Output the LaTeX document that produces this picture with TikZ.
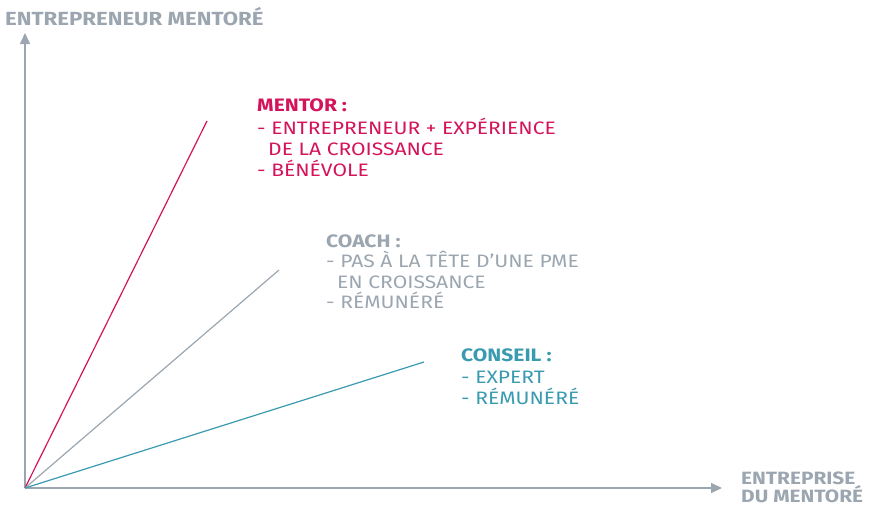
\documentclass[tikz,border=0pt]{standalone}
\usepackage{fontspec}
\setmainfont{Fira Sans}[FakeStretch=1.17]
\usetikzlibrary{arrows.meta}
\definecolor{mred}{HTML}{D4145A}
\definecolor{mgray}{HTML}{9BA6B0}
\definecolor{mteal}{HTML}{3A9BB0}
\begin{document}
\begin{tikzpicture}[x=1pt,y=-1pt,
  axis/.style={draw=mgray,line width=1.5pt,-{Triangle[length=11pt,width=10pt]}},
  ray/.style={line width=1.2pt},
  txt/.style={anchor=base west,inner sep=0pt,font=\fontsize{18}{20}\selectfont},
  hdr/.style={txt,font=\fontsize{18}{20}\selectfont\bfseries},
  axl/.style={anchor=base west,inner sep=0pt,font=\fontsize{19}{18}\selectfont\bfseries,text=mgray},
  axlx/.style={axl,font=\fontsize{17.8}{18}\selectfont\bfseries}]
\useasboundingbox (0,0) rectangle (882,506);
\coordinate (O) at (25,488);
\coordinate (ytip) at (25,33);
\coordinate (xtip) at (722,488);
\coordinate (rend) at (207,121);
\coordinate (gend) at (279,270);
\coordinate (tend) at (424,362);
\draw[axis] (O) -- (ytip);
\draw[axis] (O) -- (xtip);
\draw[ray,mred] (O) -- (rend);
\draw[ray,mgray] (O) -- (gend);
\draw[ray,mteal] (O) -- (tend);
\node[axl] (ylab) at (5,25) {ENTREPRENEUR MENTORÉ};
\node[axlx] (xlab1) at (741,484) {ENTREPRISE};
\node[axlx] (xlab2) at (741,502) {DU MENTORÉ};
\begin{scope}[every node/.append style={text=mred}]
\node[hdr] (m0) at (257,111) {MENTOR :};
\node[txt] (m1) at (257,134) {- ENTREPRENEUR + EXPÉRIENCE};
\node[txt] (m2) at (268,155) {DE LA CROISSANCE};
\node[txt] (m3) at (257,176) {- BÉNÉVOLE};
\end{scope}
\begin{scope}[every node/.append style={text=mgray}]
\node[hdr] (c0) at (326,247) {COACH :};
\node[txt] (c1) at (326,267) {- PAS À LA TÊTE D’UNE PME};
\node[txt] (c2) at (337,288) {EN CROISSANCE};
\node[txt] (c3) at (326,308) {- RÉMUNÉRÉ};
\end{scope}
\begin{scope}[every node/.append style={text=mteal}]
\node[hdr] (s0) at (461,361) {CONSEIL :};
\node[txt] (s1) at (461,383) {- EXPERT};
\node[txt] (s2) at (461,404) {- RÉMUNÉRÉ};
\end{scope}
\end{tikzpicture}
\end{document}
